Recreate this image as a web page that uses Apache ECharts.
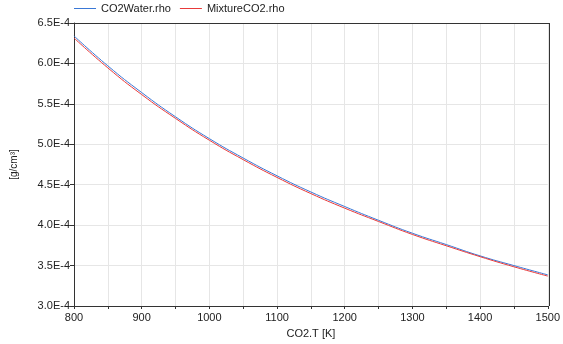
<!DOCTYPE html>
<html><head><meta charset="utf-8">
<script src="https://cdn.jsdelivr.net/npm/echarts@6/dist/echarts.min.js"></script>
<style>html,body{margin:0;padding:0;background:#fff}#c{width:563px;height:344px}</style>
</head><body><div id="c"></div>
<script>
const temps = [800, 850, 900, 950, 1000, 1050, 1100, 1150, 1200, 1250, 1300, 1350, 1400, 1450, 1500];
const co2WaterRho = [6.34e-4, 5.97e-4, 5.64e-4, 5.34e-4, 5.07e-4, 4.83e-4, 4.61e-4, 4.41e-4, 4.23e-4, 4.06e-4, 3.90e-4, 3.76e-4, 3.62e-4, 3.50e-4, 3.385e-4];
const mixtureCO2Rho = [6.315e-4, 5.945e-4, 5.615e-4, 5.32e-4, 5.05e-4, 4.81e-4, 4.59e-4, 4.39e-4, 4.21e-4, 4.045e-4, 3.885e-4, 3.745e-4, 3.61e-4, 3.485e-4, 3.37e-4];
const seriesNames = ['CO2Water.rho', 'MixtureCO2.rho'];
const xName = 'CO2.T [K]';
const yName = '[g/cm³]';

const chart = echarts.init(document.getElementById('c'));
const font = 'Liberation Sans, Arial, sans-serif';
chart.setOption({
  animation: false,
  textStyle: {fontFamily: font},
  legend: {
    top: 3, left: 74, padding: 0, itemGap: 9, itemWidth: 22, itemHeight: 1, icon: 'rect',
    textStyle: {fontSize: 11, color: '#222', fontFamily: font},
    data: seriesNames
  },
  grid: {left: 74, right: 14, top: 23, bottom: 38},
  xAxis: {
    type: 'value', min: 800, max: 1500, interval: 100,
    name: xName, nameLocation: 'middle', nameGap: 22,
    nameTextStyle: {fontSize: 11, color: '#222'},
    axisLine: {show: true, lineStyle: {color: '#333', width: 1}},
    axisTick: {show: true, length: 3, lineStyle: {color: '#333'}},
    minorTick: {show: true, splitNumber: 2, length: 3, lineStyle: {color: '#333'}},
    axisLabel: {fontSize: 11, color: '#222', margin: 6, formatter: v => String(v)},
    splitLine: {show: true, lineStyle: {color: '#e6e6e6'}},
    minorSplitLine: {show: true, lineStyle: {color: '#e6e6e6'}}
  },
  yAxis: {
    type: 'value', min: 3.0e-4, max: 6.5e-4, interval: 0.5e-4,
    name: yName, nameLocation: 'middle', nameGap: 55, nameRotate: 90,
    nameTextStyle: {fontSize: 10, color: '#222'},
    axisLine: {show: true, lineStyle: {color: '#333', width: 1}},
    axisTick: {show: true, length: 4, lineStyle: {color: '#333'}},
    axisLabel: {fontSize: 11, color: '#222', margin: 4,
      formatter: v => (v * 1e4).toFixed(1) + 'E-4'},
    splitLine: {show: true, lineStyle: {color: '#e6e6e6'}}
  },
  series: [
    {name: seriesNames[0], type: 'line', smooth: true, showSymbol: false, symbol: 'none',
     data: temps.map((t, i) => [t, co2WaterRho[i]]),
     lineStyle: {width: 1, color: '#3a78d6'}, itemStyle: {color: '#3a78d6'}},
    {name: seriesNames[1], type: 'line', smooth: true, showSymbol: false, symbol: 'none',
     data: temps.map((t, i) => [t, mixtureCO2Rho[i]]),
     lineStyle: {width: 1, color: '#e83a3a'}, itemStyle: {color: '#e83a3a'}}
  ],
  graphic: [
    {type: 'line', shape: {x1: 74, y1: 23.5, x2: 549, y2: 23.5}, style: {stroke: '#333', lineWidth: 1}, z: 10},
    {type: 'line', shape: {x1: 549.5, y1: 23, x2: 549.5, y2: 306}, style: {stroke: '#333', lineWidth: 1}, z: 10}
  ]
});
</script></body></html>
